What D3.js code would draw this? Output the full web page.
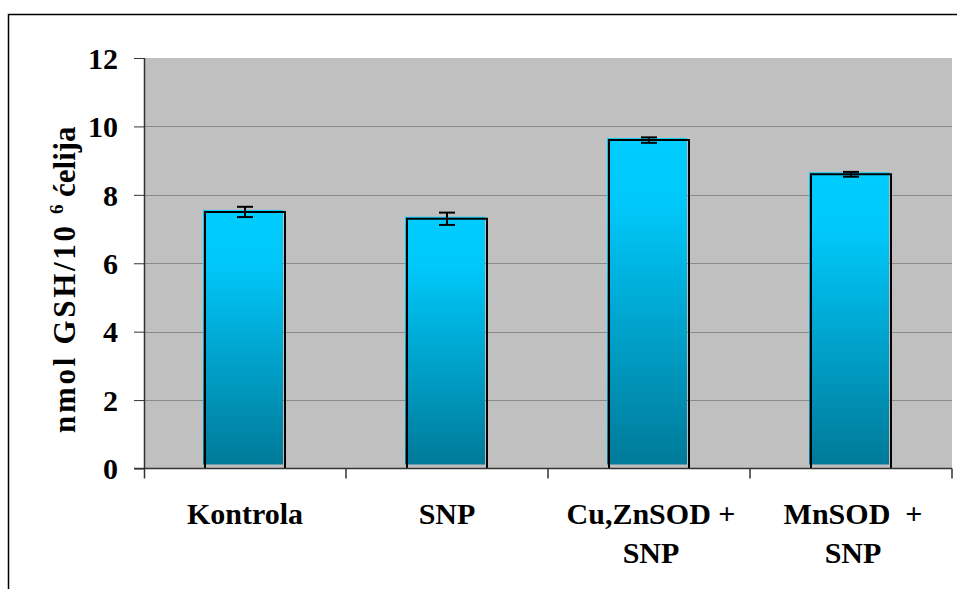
<!DOCTYPE html>
<html>
<head>
<meta charset="utf-8">
<script src="https://cdn.jsdelivr.net/npm/d3@7"></script>
<style>
  html, body { margin: 0; padding: 0; background: #fff; }
  svg { display: block; }
  svg text { font-family: 'Liberation Serif', Tinos, 'Times New Roman', Times, serif; font-weight: bold; fill: #000; }
</style>
</head>
<body>
<svg id="chart" width="957" height="589"></svg>
<script>
// GSH content per group (mean and error)
const categories = ["Kontrola", "SNP", "Cu,ZnSOD + SNP", "MnSOD  + SNP"];
const labelLines = [["Kontrola"], ["SNP"], ["Cu,ZnSOD +", "SNP"], ["MnSOD  +", "SNP"]];
const values = [7.5, 7.3, 9.6, 8.6];
const errors = [0.15, 0.18, 0.08, 0.07];
const yTicks = [0, 2, 4, 6, 8, 10, 12];

const FONT = "'Liberation Serif', Tinos, 'Times New Roman', Times, serif";
const svg = d3.select("#chart");
const plot = { left: 144, right: 952, top: 58, bottom: 468.5 };

// outer frame
svg.append("rect")
  .attr("x", 8.5).attr("y", 14.5)
  .attr("width", 960).attr("height", 600)
  .attr("fill", "none").attr("stroke", "#000").attr("stroke-width", 1.5);

const x = d3.scaleBand().domain(categories).range([plot.left, plot.right]).paddingInner(0.604).paddingOuter(0.302);
const y = d3.scaleLinear().domain([0, 12]).range([plot.bottom, plot.top]);

// plot background
svg.append("rect")
  .attr("x", plot.left).attr("y", plot.top)
  .attr("width", plot.right - plot.left).attr("height", plot.bottom - plot.top)
  .attr("fill", "#c0c0c0");

// gridlines
svg.append("g").selectAll("line").data(yTicks.filter(d => d > 0 && d < 12)).join("line")
  .attr("x1", plot.left).attr("x2", plot.right)
  .attr("y1", d => Math.round(y(d)) + 0.5).attr("y2", d => Math.round(y(d)) + 0.5)
  .attr("stroke", "#8a8a8a").attr("stroke-width", 1);

// vertical gradient for bars
const defs = svg.append("defs");
const grad = defs.append("linearGradient").attr("id", "barGrad")
  .attr("x1", 0).attr("y1", 0).attr("x2", 0).attr("y2", 1);
grad.append("stop").attr("offset", "0%").attr("stop-color", "#00ccff");
grad.append("stop").attr("offset", "20%").attr("stop-color", "#00c8fa");
grad.append("stop").attr("offset", "100%").attr("stop-color", "#007a99");

const bars = svg.append("g");
const bw = x.bandwidth();
// bar fill, offset slightly up-left of its outline
bars.selectAll("rect.fill").data(categories).join("rect")
  .attr("class", "fill")
  .attr("x", d => x(d) - 2)
  .attr("y", (d, i) => y(values[i]) - 2)
  .attr("width", bw)
  .attr("height", (d, i) => y(0) - y(values[i]) - 2)
  .attr("fill", "url(#barGrad)");
// bar outline (left, top, right)
bars.selectAll("path.outline").data(categories).join("path")
  .attr("class", "outline")
  .attr("d", (d, i) => {
    const x0 = x(d), x1 = x(d) + bw, yt = y(values[i]), yb = y(0);
    return `M${x0},${yb}V${yt}H${x1}V${yb}`;
  })
  .attr("fill", "none").attr("stroke", "#000").attr("stroke-width", 2);

// error bars
const eb = svg.append("g").attr("stroke", "#000").attr("stroke-width", 2);
categories.forEach((c, i) => {
  const cx = x(c) + bw / 2;
  const hi = y(values[i] + errors[i]), lo = y(values[i] - errors[i]);
  eb.append("line").attr("x1", cx).attr("x2", cx).attr("y1", hi).attr("y2", lo);
  eb.append("line").attr("x1", cx - 8).attr("x2", cx + 8).attr("y1", hi).attr("y2", hi);
  eb.append("line").attr("x1", cx - 8).attr("x2", cx + 8).attr("y1", lo).attr("y2", lo);
});

// y axis
const yAxis = svg.append("g").attr("transform", `translate(${plot.left},0)`)
  .call(d3.axisLeft(y).tickValues(yTicks).tickSize(10).tickPadding(16));
yAxis.attr("font-family", FONT).attr("font-size", 30);
yAxis.select(".domain").attr("d", `M0.5,${plot.top}V${plot.bottom + 10}`).attr("stroke", "#333").attr("stroke-width", 1.5);
yAxis.selectAll(".tick line").attr("stroke", "#333");
yAxis.selectAll(".tick text").attr("font-size", 30).attr("font-family", FONT).attr("dy", "0.34em");

// x axis baseline and boundary ticks
svg.append("line")
  .attr("x1", plot.left - 10).attr("x2", plot.right)
  .attr("y1", plot.bottom).attr("y2", plot.bottom)
  .attr("stroke", "#333").attr("stroke-width", 1.5);
const bounds = categories.slice(1).map(c => x(c) - x.step() * x.paddingInner() / 2).concat([plot.right]);
svg.append("g").selectAll("line").data(bounds).join("line")
  .attr("x1", d => d).attr("x2", d => d)
  .attr("y1", plot.bottom).attr("y2", plot.bottom + 10)
  .attr("stroke", "#333").attr("stroke-width", 1.5);

// category labels
const xl = svg.append("g");
categories.forEach((c, i) => {
  const cx = x(c) + bw / 2 + (i > 1 ? 2 : 0);
  const t = xl.append("text")
    .attr("x", cx)
    .attr("y", 524)
    .attr("text-anchor", "middle")
    .attr("font-family", FONT)
    .attr("font-size", 30)
    .style("white-space", "pre");
  labelLines[i].forEach((ln, k) => {
    t.append("tspan").attr("x", cx).attr("dy", k === 0 ? 0 : 39).text(ln);
  });
});

// y axis title, laid out along the rotated baseline
const title = svg.append("g").attr("transform", "translate(75,0) rotate(-90)")
  .attr("font-family", FONT);
title.append("text").attr("x", -433).attr("y", 0).attr("font-size", 31)
  .attr("textLength", 207).attr("lengthAdjust", "spacing").text("nmol GSH/10");
title.append("text").attr("x", -214).attr("y", -12).attr("font-size", 19).text("6");
title.append("text").attr("x", -197).attr("y", 0).attr("font-size", 31).text("ćelija");
</script>
</body>
</html>
